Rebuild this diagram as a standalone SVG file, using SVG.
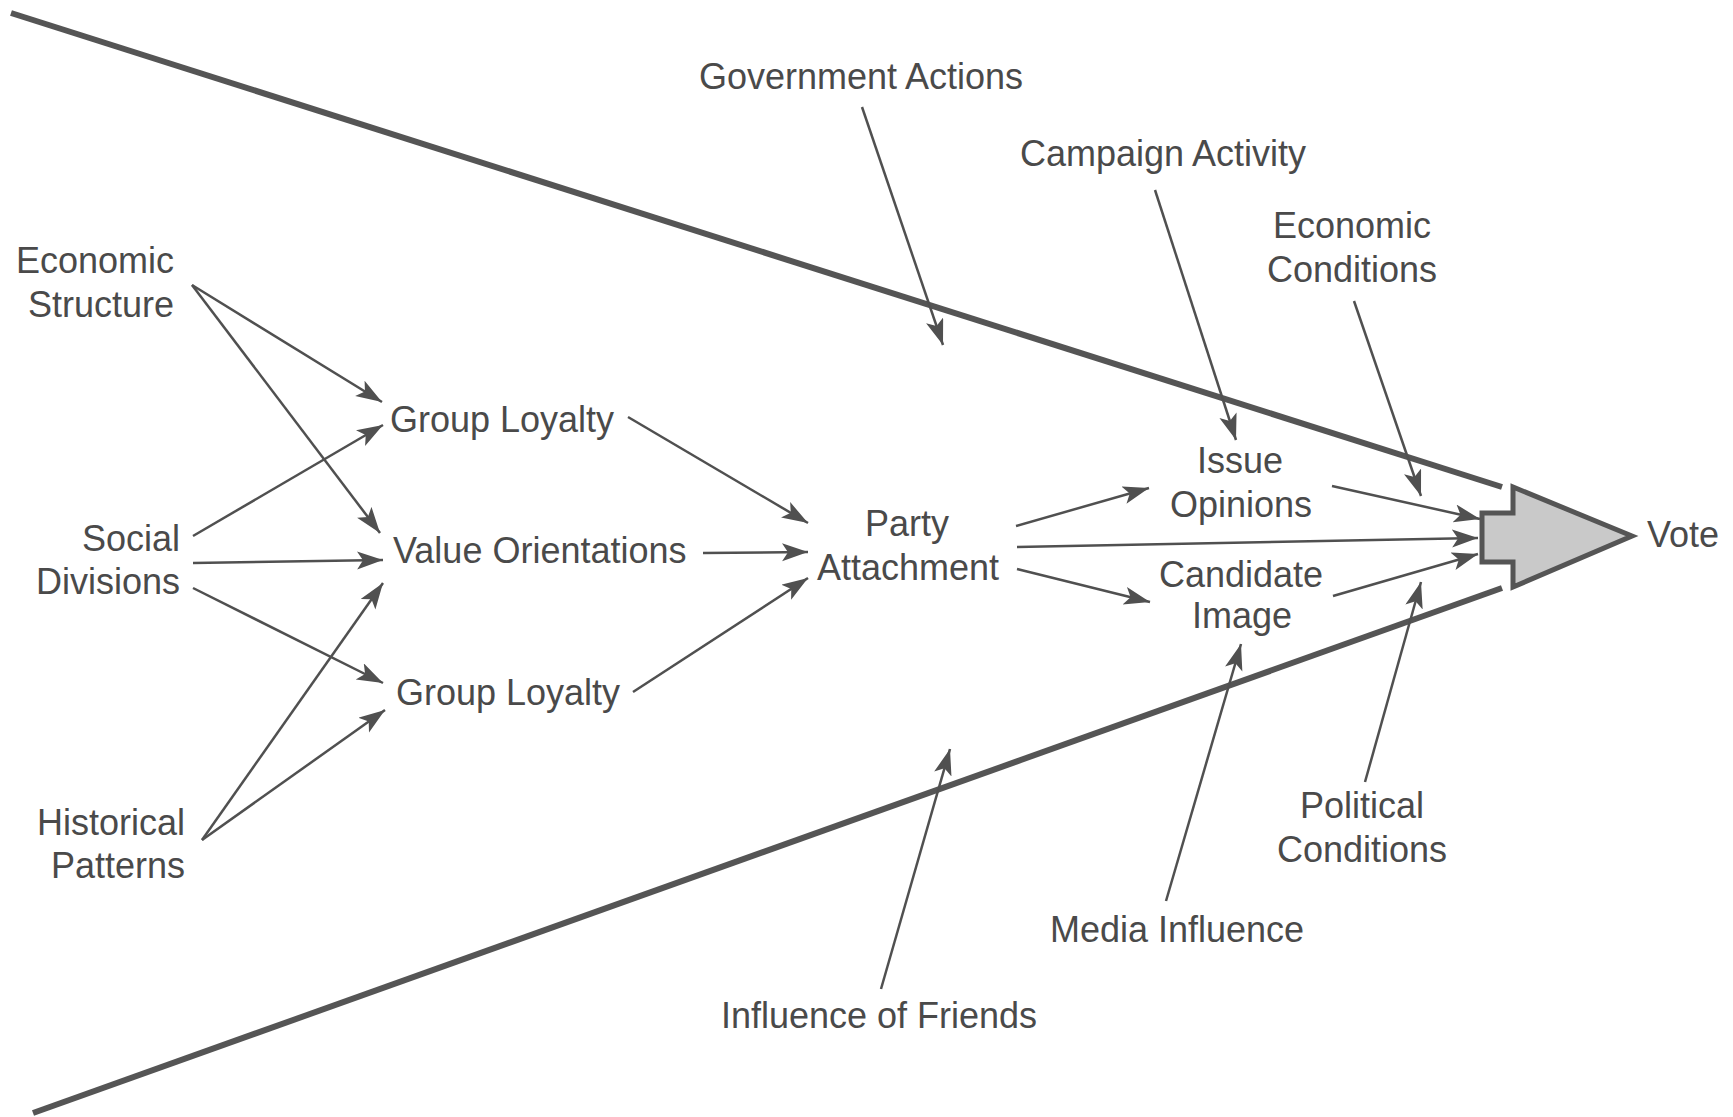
<svg xmlns="http://www.w3.org/2000/svg" width="1733" height="1117" viewBox="0 0 1733 1117">
<style>
  text { font-family: "Liberation Sans", Arial, sans-serif; font-size: 36px; fill: #4a4a4a; }
  .c { text-anchor: middle; }
  .r { text-anchor: end; }
  .edge { stroke: #505050; stroke-width: 2.5; fill: none; marker-end: url(#ah); }
  .funnel { stroke: #555555; stroke-width: 6; fill: none; }
  .vote { fill: #c9c9c9; stroke: #555555; stroke-width: 5; stroke-linejoin: miter; }
</style>
<defs>
  <marker id="ah" markerUnits="userSpaceOnUse" markerWidth="28" markerHeight="20" refX="26" refY="9" orient="auto" viewBox="0 0 28 20">
    <path d="M0,0 L26,9 L0,18 L6,9 Z" fill="#505050"/>
  </marker>
</defs>
<rect width="1733" height="1117" fill="#ffffff"/>

<g id="funnel">
  <line class="funnel" x1="11" y1="13" x2="1502" y2="487"/>
  <line class="funnel" x1="33" y1="1113" x2="1502" y2="588"/>
</g>

<g id="connectors">
  <line class="edge" x1="192" y1="285" x2="382" y2="402"/>
  <line class="edge" x1="192" y1="285" x2="380" y2="533"/>
  <line class="edge" x1="193" y1="536" x2="383" y2="425"/>
  <line class="edge" x1="193" y1="563" x2="383" y2="560"/>
  <line class="edge" x1="193" y1="588" x2="383" y2="683"/>
  <line class="edge" x1="202" y1="840" x2="383" y2="583"/>
  <line class="edge" x1="202" y1="840" x2="385" y2="710"/>
  <line class="edge" x1="628" y1="417" x2="808" y2="523"/>
  <line class="edge" x1="703" y1="553" x2="808" y2="552"/>
  <line class="edge" x1="633" y1="692" x2="808" y2="578"/>
  <line class="edge" x1="1016" y1="526" x2="1149" y2="488"/>
  <line class="edge" x1="1017" y1="547" x2="1478" y2="538"/>
  <line class="edge" x1="1017" y1="569" x2="1150" y2="602"/>
  <line class="edge" x1="1332" y1="486" x2="1480" y2="519"/>
  <line class="edge" x1="1333" y1="596" x2="1478" y2="554"/>
  <line class="edge" x1="862" y1="107" x2="943" y2="345"/>
  <line class="edge" x1="1155" y1="190" x2="1236" y2="440"/>
  <line class="edge" x1="1354" y1="301" x2="1421" y2="496"/>
  <line class="edge" x1="1365" y1="782" x2="1421" y2="582"/>
  <line class="edge" x1="1166" y1="901" x2="1241" y2="644"/>
  <line class="edge" x1="881" y1="989" x2="950" y2="749"/>
</g>

<g id="economic-structure"><text class="r" x="174" y="273">Economic</text><text class="r" x="174" y="317">Structure</text></g>
<g id="social-divisions"><text class="r" x="180" y="551">Social</text><text class="r" x="180" y="594">Divisions</text></g>
<g id="historical-patterns"><text class="r" x="185" y="835">Historical</text><text class="r" x="185" y="878">Patterns</text></g>
<g id="group-loyalty-1"><text x="390" y="432">Group Loyalty</text></g>
<g id="value-orientations"><text x="393" y="563">Value Orientations</text></g>
<g id="group-loyalty-2"><text x="396" y="705">Group Loyalty</text></g>
<g id="party-attachment"><text class="c" x="907" y="536">Party</text><text class="c" x="908" y="580">Attachment</text></g>
<g id="issue-opinions"><text class="c" x="1240" y="473">Issue</text><text class="c" x="1241" y="517">Opinions</text></g>
<g id="candidate-image"><text class="c" x="1241" y="587">Candidate</text><text class="c" x="1242" y="628">Image</text></g>
<g id="vote">
  <polygon class="vote" points="1482,513 1513,513 1513,487 1632,536 1513,587 1513,562 1482,562"/>
  <text x="1647" y="547">Vote</text>
</g>
<g id="government-actions"><text class="c" x="861" y="89">Government Actions</text></g>
<g id="campaign-activity"><text class="c" x="1163" y="166">Campaign Activity</text></g>
<g id="economic-conditions"><text class="c" x="1352" y="238">Economic</text><text class="c" x="1352" y="282">Conditions</text></g>
<g id="political-conditions"><text class="c" x="1362" y="818">Political</text><text class="c" x="1362" y="862">Conditions</text></g>
<g id="media-influence"><text class="c" x="1177" y="942">Media Influence</text></g>
<g id="influence-of-friends"><text class="c" x="879" y="1028">Influence of Friends</text></g>
</svg>
